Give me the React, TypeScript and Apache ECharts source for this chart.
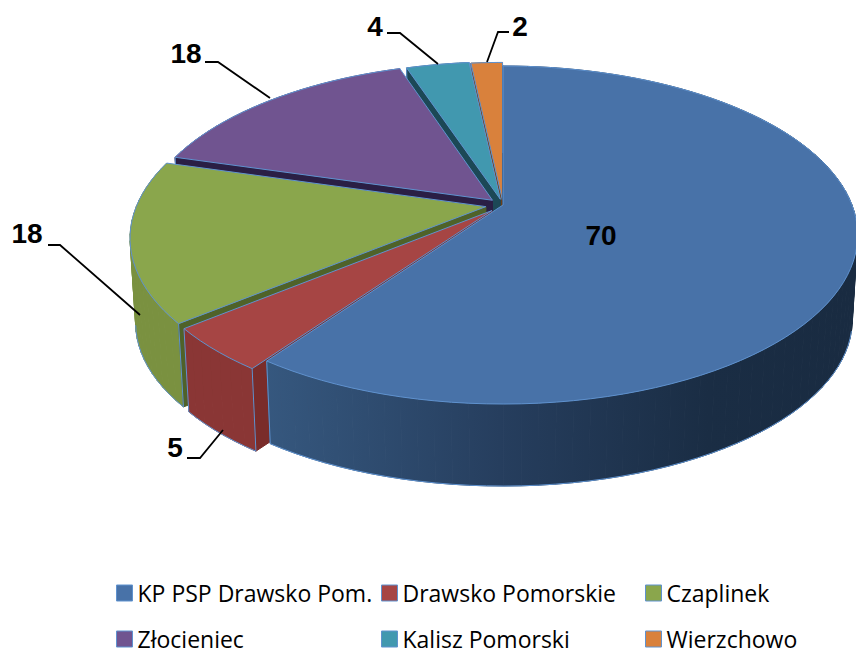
import React, { useEffect, useRef } from "react";
import * as echarts from "echarts";

const categories = ["KP PSP Drawsko Pom.", "Drawsko Pomorskie", "Czaplinek", "Złocieniec", "Kalisz Pomorski", "Wierzchowo"];
const values = [70, 5, 18, 18, 4, 2];

const topColors = ["#4872a8", "#a64544", "#8aa64c", "#705490", "#4198af", "#d9813c"];
const wallColors = ["#34557f", "#8a3635", "#7a9140", "#5d4478", "#33788c", "#b56a2f"];
const radialColors = ["#1b2d44", "#7a2c2a", "#4f6229", "#2a1f45", "#1c4856", "#6f4018"];
const explode = [0, 0.046, 0.05, 0.042, 0.036, 0.03];
const drawOrder = [5, 4, 3, 2, 1, 0];

const CX = 503, CY = 205, A = 349, B = 163.7, K = 0.1775;
const WALL_SCALE = 0.985, WALL_DROP = 85;
const RIM_MIN_Y = 325;
const EDGE = "#5f92cf";

const total = values.reduce((a, b) => a + b, 0);
const starts: number[] = [];
values.reduce((acc, v, i) => { starts[i] = acc; return acc + v; }, 0);

type P = [number, number];
const project = (x: number, y: number): P => {
  const d = 1 - K * y;
  return [CX + (A * x) / d, CY + (B * y) / d];
};
const drop = (p: P): P => [CX + (p[0] - CX) * WALL_SCALE, CY + (p[1] - CY) * WALL_SCALE + WALL_DROP];

function sliceGeometry(i: number) {
  const t0 = (starts[i] / total) * Math.PI * 2;
  const t1 = ((starts[i] + values[i]) / total) * Math.PI * 2;
  const m = (t0 + t1) / 2;
  const ox = explode[i] * Math.sin(m), oy = -explode[i] * Math.cos(m);
  const n = Math.max(6, Math.ceil((t1 - t0) * 24));
  const arc: P[] = [];
  for (let k = 0; k <= n; k++) {
    const t = t0 + ((t1 - t0) * k) / n;
    arc.push(project(ox + Math.sin(t), oy - Math.cos(t)));
  }
  return { apex: project(ox, oy), arc };
}

const renderSlice = (i: number) => () => {
  const { apex, arc } = sliceGeometry(i);
  const poly = (points: P[], fill: any, stroke: any = EDGE) => ({
    type: "polygon",
    shape: { points },
    style: { fill, stroke, lineWidth: 1 },
  });
  const line = (points: P[]) => ({
    type: "polyline",
    shape: { points },
    style: { fill: "none", stroke: EDGE, lineWidth: 1 },
  });
  const wallFill = i === 0
    ? { type: "linear", global: true, x: 263, y: 0, x2: 856, y2: 0,
        colorStops: [{ offset: 0, color: "#36587f" }, { offset: 0.4, color: "#263e5e" }, { offset: 0.75, color: "#1a2d44" }, { offset: 1, color: "#192b41" }] }
    : wallColors[i];
  const first = arc[0], last = arc[arc.length - 1];
  const sweep = arc.slice(1).map((p, k) => poly([arc[k], p, drop(p), drop(arc[k])], wallFill, wallFill));
  const rim = arc.map(drop).filter((p) => p[1] > RIM_MIN_Y);
  return {
    type: "group",
    children: [
      ...sweep,
      poly([apex, first, drop(first), drop(apex)], radialColors[i], radialColors[i]),
      ...(rim.length > 1 ? [line(rim)] : []),
      line([first, drop(first)]),
      line([last, drop(last)]),
      poly([apex, ...arc], topColors[i]),
    ],
  };
};

const labelLayout = [
  { text: [601, 235], line: null },
  { text: [175, 447], line: [[187, 458], [200, 458], [223, 430]] },
  { text: [27, 233], line: [[48, 245], [60, 245], [140, 315]] },
  { text: [186, 53], line: [[205, 62], [218, 62], [270, 98]] },
  { text: [375, 26], line: [[387, 33], [400, 33], [438, 64]] },
  { text: [520, 26], line: [[509, 32], [498, 32], [487, 62]] },
];

const legendLayout = [
  [116, 581], [381, 581], [645, 581],
  [116, 627], [381, 627], [645, 627],
];

export default function App() {
  const ref = useRef<HTMLDivElement>(null);
  useEffect(() => {
    document.body.style.margin = "0";
    const chart = echarts.init(ref.current!, undefined, { renderer: "svg" });
    const graphics: any[] = [];
    labelLayout.forEach((l, i) => {
      if (l.line) {
        graphics.push({
          type: "polyline", z: 100,
          shape: { points: l.line },
          style: { stroke: "#000", lineWidth: 1.8, fill: "none" },
        });
      }
      graphics.push({
        type: "text", z: 101, x: l.text[0], y: l.text[1],
        style: {
          text: String(values[i]), fill: "#000", align: "center", verticalAlign: "middle",
          font: 'bold 28px "Liberation Sans"',
        },
      });
    });
    chart.setOption({
      animation: false,
      legend: categories.map((name, i) => ({
        left: legendLayout[i][0], top: legendLayout[i][1],
        orient: "horizontal", itemWidth: 16, itemHeight: 16, itemGap: 6, padding: 0,
        selectedMode: false,
        textStyle: { fontFamily: "Open Sans", fontSize: 23, lineHeight: 24, color: "#000" },
        data: [{ name, icon: "rect", itemStyle: { color: topColors[i], borderColor: EDGE, borderWidth: 1 } }],
      })),
      graphic: graphics,
      series: categories.map((name, i) => ({
        type: "custom", name, coordinateSystem: "none", silent: true,
        z: 2 + drawOrder.indexOf(i),
        itemStyle: { color: topColors[i] },
        data: [values[i]],
        renderItem: renderSlice(i),
      })),
    });
    return () => chart.dispose();
  }, []);
  return <div ref={ref} style={{ width: 856, height: 655 }} />;
}
